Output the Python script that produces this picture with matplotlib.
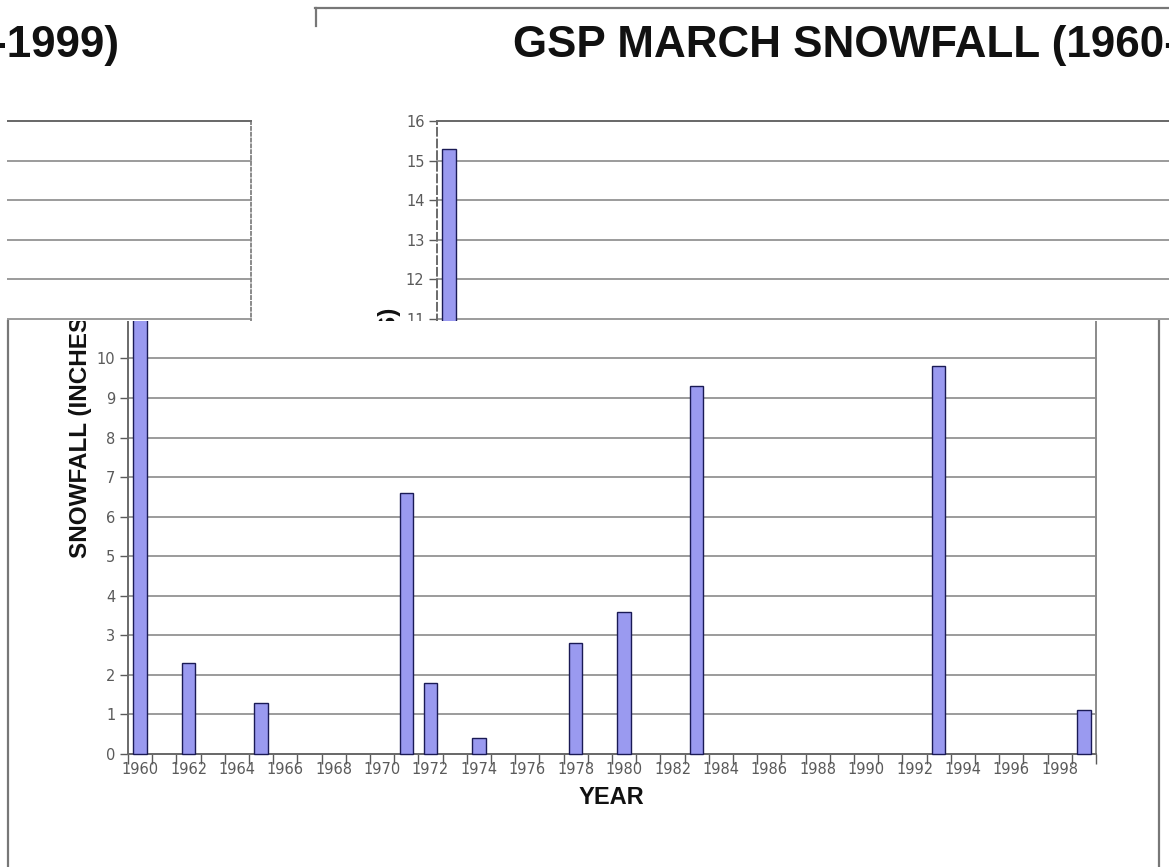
import matplotlib
matplotlib.use("Agg")
import matplotlib.pyplot as plt
from matplotlib.transforms import Bbox
from matplotlib.lines import Line2D
from matplotlib.ticker import NullFormatter

# ---------------- data ----------------
snow_years = [1960, 1962, 1965, 1971, 1972, 1974, 1978, 1980, 1983, 1993, 1999]
snow_vals = [15.3, 2.3, 1.3, 6.6, 1.8, 0.4, 2.8, 3.6, 9.3, 9.8, 1.1]
first_year, last_year = 1960, 1999
year_labels = list(range(1960, 1999, 2))
y_ticks = list(range(0, 17))
title_text = "GSP MARCH SNOWFALL (1960-1999)"
ylabel_text = "SNOWFALL (INCHES)"
xlabel_text = "YEAR"

W, H = 1169, 867
SPLIT = 321  # image row where the lower band begins

fig = plt.figure(figsize=(W / 100, H / 100), dpi=100)
fig.patch.set_facecolor("white")

BAR_FILL = "#9a9af0"
BAR_EDGE = "#1a1a55"
GRID = "#8a8a8a"
TICKC = "#5a5a5a"
NARROW = ["Liberation Sans Narrow", "DejaVu Sans"]
BOLD = ["Liberation Sans", "DejaVu Sans"]


def band(top, bottom, left=0, right=W):
    return Bbox([[left, H - bottom], [right, H - top]])


def fy(y):
    return 1 - y / H


def draw_copy(dx, clip, text_clip, title_dx=0, left_style="-", right_style="-",
              show_title=False, show_ylabel=False, show_xlabel=False,
              show_xticklabels=False, ylabel_range=(0, 16)):
    ax = fig.add_axes([(128 + dx) / W, (H - 754) / H, 968 / W, (754 - 121) / H])
    ax.bar(snow_years, snow_vals, width=0.56, color=BAR_FILL,
           edgecolor=BAR_EDGE, linewidth=1.0, zorder=3)
    ax.set_xlim(first_year - 0.5, last_year + 0.5)
    ax.set_ylim(0, 16)
    ax.set_yticks(y_ticks)
    lo, hi = ylabel_range
    ax.set_yticklabels([str(v) if lo <= v <= hi else "" for v in y_ticks])
    ax.yaxis.grid(True, color=GRID, linewidth=1.2, zorder=0)
    ax.set_axisbelow(True)
    # category boundaries as major ticks, labels as minor ticks
    bounds = [y - 0.5 for y in range(first_year, last_year + 2)]
    ax.set_xticks(bounds)
    ax.xaxis.set_major_formatter(NullFormatter())
    ax.set_xticks(year_labels, minor=True)
    if show_xticklabels:
        ax.set_xticklabels([str(v) for v in year_labels], minor=True)
    else:
        ax.xaxis.set_minor_formatter(NullFormatter())
    ax.tick_params(axis="x", which="major", length=7, width=1.0, color=TICKC,
                   direction="out")
    ax.tick_params(axis="x", which="minor", length=0, pad=6,
                   labelsize=10.5, labelcolor=TICKC)
    ax.tick_params(axis="y", length=6, width=1.0, color=TICKC, pad=3,
                   labelsize=10.5, labelcolor=TICKC)
    for lab in ax.get_xticklabels(minor=True) + ax.get_yticklabels():
        lab.set_family(NARROW)
    for s in ["left", "right", "top", "bottom"]:
        ax.spines[s].set_color("#6a6a6a")
        ax.spines[s].set_linewidth(1.4)
    ax.spines["left"].set_linestyle(left_style)
    ax.spines["right"].set_linestyle(right_style)
    ax.spines["right"].set_color("#8a8a8a")

    texts = []
    if show_title:
        texts.append(fig.text((204 + dx + title_dx) / W, fy(57), title_text,
                              ha="left", va="baseline", fontsize=31.7,
                              fontweight="bold", family=BOLD, color="#111111"))
    if show_ylabel:
        texts.append(fig.text((81 + dx) / W, fy(433), ylabel_text, rotation=90,
                              ha="center", va="center", fontsize=17.5,
                              fontweight="bold", family=BOLD, color="#111111"))
    if show_xlabel:
        texts.append(fig.text((611 + dx) / W, fy(797), xlabel_text,
                              ha="center", va="center", fontsize=17,
                              fontweight="bold", family=BOLD, color="#111111"))

    for a in ax.findobj():
        if a is ax:
            continue
        a.set_clip_on(True)
        a.set_clip_box(clip)
    for t in texts:
        t.set_clip_on(True)
        t.set_clip_box(text_clip)
    return ax


top_band = band(0, SPLIT)
low_band = band(SPLIT, H)

# lower band: unshifted chart
draw_copy(0, low_band, low_band, show_ylabel=True, show_xlabel=True,
          show_xticklabels=True, ylabel_range=(0, 10))
# upper band: chart shifted right, plus wrapped-around piece on the left
draw_copy(309, top_band, top_band, left_style=(0, (4, 2)), show_title=True,
          show_ylabel=True, ylabel_range=(11, 16))
draw_copy(-845, band(0, SPLIT, left=7), top_band, title_dx=-18,
          right_style=(0, (1.5, 1.5)), show_title=True, ylabel_range=(99, 99))


# outer frame pieces
def fline(xs, ys, **kw):
    ln = Line2D([x / W for x in xs], [fy(y) for y in ys], transform=fig.transFigure,
                color="#777777", linewidth=1.6, **kw)
    fig.add_artist(ln)


fline([315, W], [8, 8])
fline([316, 316], [8, 26])
fline([8, 8], [SPLIT, H])
fline([1159, 1159], [SPLIT, H])

fig.savefig("out.png", dpi=100, facecolor="white")
